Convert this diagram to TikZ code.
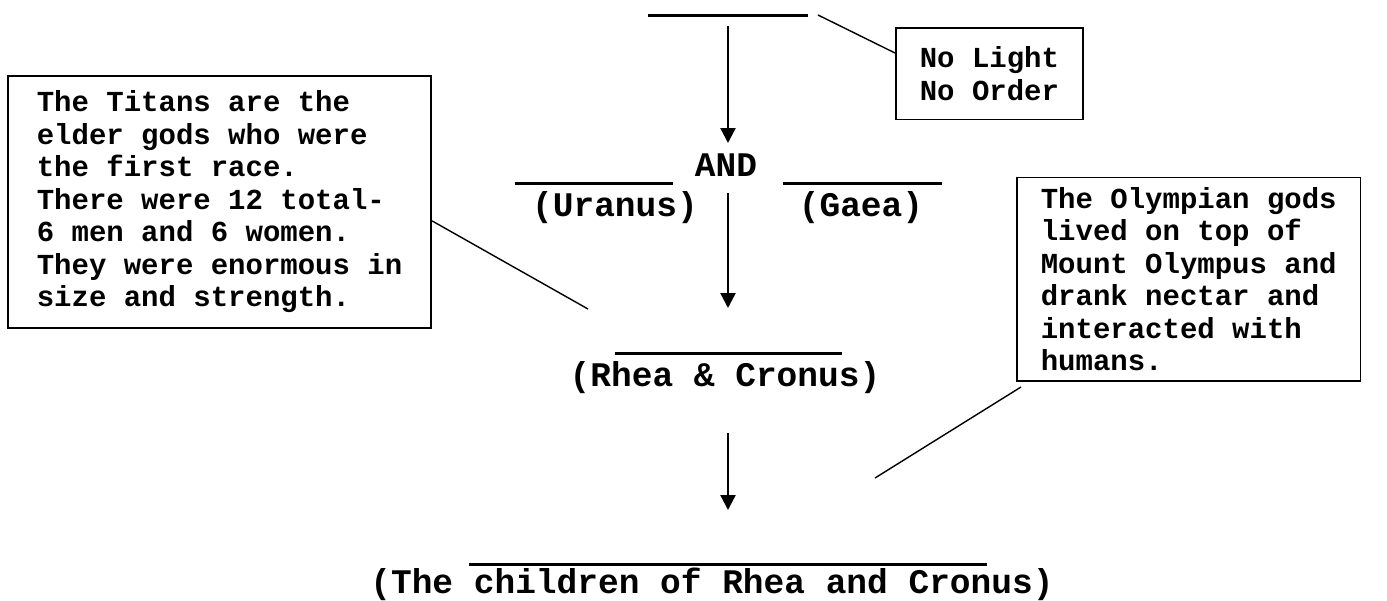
\documentclass[tikz,border=0pt]{standalone}
\usepackage{fontspec}
\setmonofont{Liberation Mono}
\usetikzlibrary{arrows.meta}
\begin{document}
\begin{tikzpicture}[x=1pt,y=-1pt,
  big/.style={font=\ttfamily\bfseries\fontsize{34.5}{38}\selectfont, inner sep=0pt},
  note/.style={draw, line width=1.6pt, align=left, inner xsep=24pt,
    font=\ttfamily\bfseries\fontsize{29}{32.5}\selectfont},
  blank/.style={line width=3pt},
  link/.style={line width=1.4pt},
  down/.style={line width=2.4pt, -{Triangle[length=15pt,width=15pt]}}]
\useasboundingbox (0,0) rectangle (1387,600);
% blanks to fill in
\coordinate (chaosL) at (648,15);
\coordinate (chaosR) at (808,15);
\coordinate (uranL) at (515,183);
\coordinate (uranR) at (673,183);
\coordinate (gaeaL) at (783,183);
\coordinate (gaeaR) at (942,183);
\coordinate (titL) at (615,353);
\coordinate (titR) at (842,353);
\coordinate (olyL) at (469,564);
\coordinate (olyR) at (987,564);
\draw[blank] (chaosL) -- (chaosR);
\draw[blank] (uranL) -- (uranR);
\draw[blank] (gaeaL) -- (gaeaR);
\draw[blank] (titL) -- (titR);
\draw[blank] (olyL) -- (olyR);
% labels
\node[big] (and) at (726,165) {AND};
\node[big] (uranus) at (615,208) {(Uranus)};
\node[big] (gaea) at (861,208) {(Gaea)};
\node[big] (rhea) at (725,378) {(Rhea \& Cronus)};
\node[big] (kids) at (712,584) {(The children of Rhea and Cronus)};
% arrows
\coordinate (a1s) at (728,26);
\coordinate (a1e) at (728,143);
\coordinate (a2s) at (728,193);
\coordinate (a2e) at (728,308);
\coordinate (a3s) at (728,433);
\coordinate (a3e) at (728,510);
\draw[down] (a1s) -- (a1e);
\draw[down] (a2s) -- (a2e);
\draw[down] (a3s) -- (a3e);
% notes
\node[note, anchor=north west, inner ysep=19pt] (dark) at (895,27) {No Light\\No Order};
\node[note, anchor=north west, inner xsep=29pt, inner ysep=15pt] (titans) at (7,75)
  {The Titans are the\\elder gods who were\\the first race.\\There were 12 total-\\6 men and 6 women.\\They were enormous in\\size and strength.};
\node[note, anchor=south west, inner ysep=10pt] (olymp) at (1016,382)
  {The Olympian gods\\lived on top of\\Mount Olympus and\\drank nectar and\\interacted with\\humans.};
\coordinate (chaosTip) at (818,15);
\coordinate (titansTip) at (588,309);
\coordinate (olympTip) at (875,478);
\draw[link] (chaosTip) -- ([yshift=-26pt]dark.north west);
\draw[link] ([yshift=-19pt]titans.east) -- (titansTip);
\draw[link] ([shift={(5pt,-5pt)}]olymp.south west) -- (olympTip);
\end{tikzpicture}
\end{document}
